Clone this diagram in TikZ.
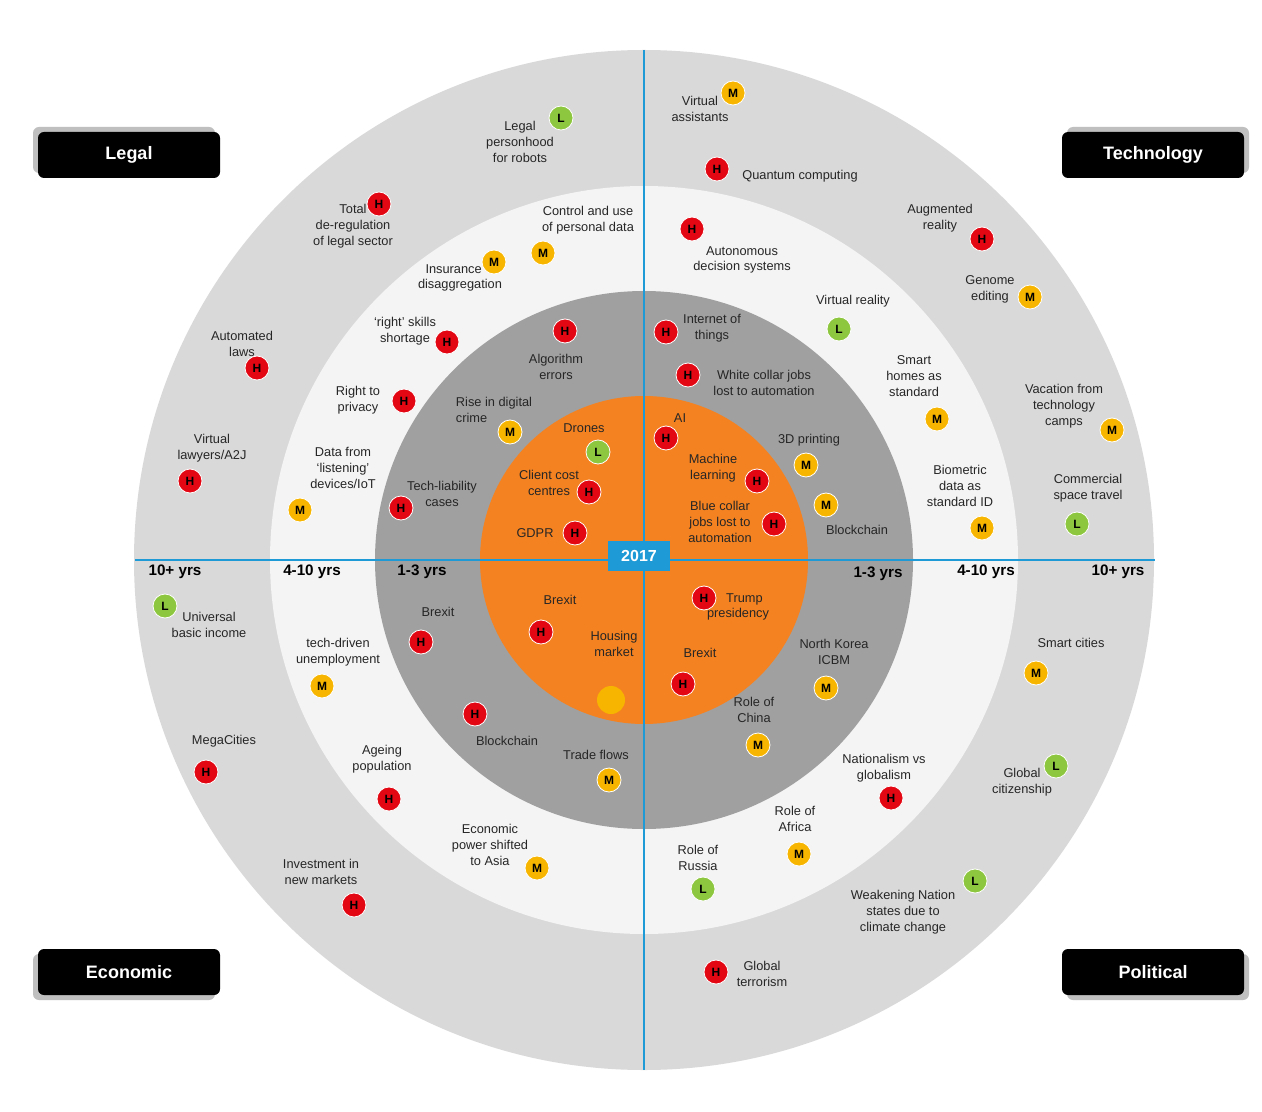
\documentclass[tikz,border=0pt]{standalone}
\usepackage{fontspec}
\setmainfont{Liberation Sans}
\definecolor{ringA}{HTML}{D9D9D9}
\definecolor{ringB}{HTML}{F4F4F4}
\definecolor{ringC}{HTML}{A0A0A0}
\definecolor{orng}{HTML}{F58220}
\definecolor{axis}{HTML}{1E9AD6}
\definecolor{bR}{HTML}{E30613}
\definecolor{bY}{HTML}{F7B500}
\definecolor{bG}{HTML}{8DC63F}
\newcounter{nid}
\newcommand{\Bd}[4]{\stepcounter{nid}\node[badge,fill=#4] (b\arabic{nid}) at (#1,#2) {#3};}
\newcommand{\Tx}[3]{\stepcounter{nid}\node[lbl] (t\arabic{nid}) at (#1,#2) {#3};}
\begin{document}
\begin{tikzpicture}[x=0.5pt,y=-0.5pt,
  badge/.style={circle,draw=white,line width=0.4pt,minimum size=12pt,inner sep=0pt,font=\fontsize{6}{6}\selectfont\bfseries},
  lbl/.style={align=center,inner sep=0pt,font=\fontsize{6.4}{7.9}\selectfont,text=black!85},
  yrs/.style={font=\fontsize{7.6}{8}\selectfont\bfseries,inner sep=0pt},
  cat/.style={fill=black,rounded corners=3pt,minimum width=91pt,minimum height=23pt,text=white,font=\fontsize{9}{9}\selectfont\bfseries},
  catsh/.style={fill=black!25,rounded corners=3pt,minimum width=91pt,minimum height=23pt}]
\useasboundingbox (0,0) rectangle (1262,1112);
\fill[white] (0,0) rectangle (1262,1112);
\coordinate (c) at (644,560);
\fill[ringA] (c) circle[radius=255pt];
\fill[ringB] (c) circle[radius=187pt];
\fill[ringC] (c) circle[radius=134.5pt];
\fill[orng] (c) circle[radius=82pt];
\coordinate (vt) at (644,50); \coordinate (vb) at (644,1070);
\coordinate (hl) at (135,560); \coordinate (hr) at (1155,560);
\draw[axis,line width=1.3pt] (vt) -- (vb);
\draw[axis,line width=1.3pt] (hl) -- (hr);
\node[fill=axis,minimum width=31pt,minimum height=15pt,inner sep=0pt,text=white,font=\fontsize{8}{8}\selectfont\bfseries] (yr) at (639,556) {2017};
% categories
\node[catsh] (s1) at (124,150) {}; \node[cat] (legal) at (129,155) {Legal};
\node[catsh] (s2) at (1158,150) {}; \node[cat] (tech) at (1153,155) {Technology};
\node[catsh] (s3) at (124,977) {}; \node[cat] (econ) at (129,972) {Economic};
\node[catsh] (s4) at (1158,977) {}; \node[cat] (pol) at (1153,972) {Political};
% years
\node[yrs] (y1) at (175,572) {10+ yrs};
\node[yrs] (y2) at (312,572) {4-10 yrs};
\node[yrs] (y3) at (422,572) {1-3 yrs};
\node[yrs] (y4) at (878,574) {1-3 yrs};
\node[yrs] (y5) at (986,572) {4-10 yrs};
\node[yrs] (y6) at (1118,572) {10+ yrs};
% Legal
\Tx{520}{142}{Legal\\personhood\\for robots}\Bd{561}{118}{L}{bG}
\Tx{353}{226}{Total\\de-regulation\\of legal sector}\Bd{379}{204}{H}{bR}
\Tx{588}{220}{Control and use\\of personal data}\Bd{543}{253}{M}{bY}
\Tx{460}{278}{Insurance\phantom{xx}\\disaggregation}\Bd{494}{262}{M}{bY}
\Tx{242}{344}{Automated\\laws}\Bd{257}{368}{H}{bR}
\Tx{405}{331}{`right' skills\\shortage}\Bd{447}{342}{H}{bR}
\Tx{556}{367}{Algorithm\\errors}\Bd{565}{331}{H}{bR}
\Tx{358}{400}{Right to\\privacy}\Bd{404}{401}{H}{bR}
\Tx{494}{410}{Rise in digital\\crime\phantom{xxxxxxx}}\Bd{510}{432}{M}{bY}
\Tx{212}{448}{Virtual\\lawyers/A2J}\Bd{190}{481}{H}{bR}
\Tx{343}{468}{Data from\\`listening'\\devices/IoT}\Bd{300}{510}{M}{bY}
\Tx{442}{494}{Tech-liability\\cases}\Bd{401}{508}{H}{bR}
\Tx{584}{428}{Drones}\Bd{598}{452}{L}{bG}
\Tx{549}{483}{Client cost\\centres}\Bd{589}{492}{H}{bR}
\Tx{535}{533}{GDPR}\Bd{575}{533}{H}{bR}
% Technology
\Tx{700}{109}{Virtual\\assistants}\Bd{733}{93}{M}{bY}
\Tx{800}{176}{Quantum computing}\Bd{717}{169}{H}{bR}
\Tx{940}{218}{Augmented\\reality}\Bd{982}{239}{H}{bR}
\Tx{742}{260}{Autonomous\\decision systems}\Bd{692}{229}{H}{bR}
\Tx{990}{289}{Genome\\editing}\Bd{1030}{297}{M}{bY}
\Tx{853}{301}{Virtual reality}\Bd{839}{329}{L}{bG}
\Tx{712}{328}{Internet of\\things}\Bd{666}{332}{H}{bR}
\Tx{914}{376}{Smart\\homes as\\standard}\Bd{937}{419}{M}{bY}
\Tx{764}{383}{White collar jobs\\lost to automation}\Bd{688}{375}{H}{bR}
\Tx{1064}{406}{Vacation from\\technology\\camps}\Bd{1112}{430}{M}{bY}
\Tx{680}{418}{AI}\Bd{666}{438}{H}{bR}
\Tx{809}{440}{3D printing}\Bd{806}{465}{M}{bY}
\Tx{713}{468}{Machine\\learning}\Bd{757}{481}{H}{bR}
\Tx{960}{486}{Biometric\\data as\\standard ID}\Bd{982}{528}{M}{bY}
\Tx{1088}{488}{Commercial\\space travel}\Bd{1077}{524}{L}{bG}
\Tx{857}{530}{Blockchain}\Bd{826}{505}{M}{bY}
\Tx{720}{522}{Blue collar\\jobs lost to\\automation}\Bd{774}{524}{H}{bR}
% Economic
\Tx{209}{625}{Universal\\basic income}\Bd{165}{606}{L}{bG}
\Tx{438}{612}{Brexit}\Bd{421}{642}{H}{bR}
\Tx{338}{652}{tech-driven\\unemployment}\Bd{322}{686}{M}{bY}
\Tx{560}{600}{Brexit}\Bd{541}{632}{H}{bR}
\Tx{614}{644}{Housing\\market}
\node[circle,fill=bY,minimum size=14pt,inner sep=0pt] (hm) at (611,700) {};
\Tx{224}{741}{MegaCities}\Bd{206}{772}{H}{bR}
\Tx{382}{759}{Ageing\\population}\Bd{389}{799}{H}{bR}
\Tx{507}{741}{Blockchain}\Bd{475}{714}{H}{bR}
\Tx{596}{755}{Trade flows}\Bd{609}{780}{M}{bY}
\Tx{490}{845}{Economic\\power shifted\\to Asia}\Bd{537}{868}{M}{bY}
\Tx{321}{872}{Investment in\\new markets}\Bd{354}{905}{H}{bR}
% Political
\Tx{738}{607}{\quad Trump\\presidency}\Bd{704}{598}{H}{bR}
\Tx{700}{653}{Brexit}\Bd{683}{684}{H}{bR}
\Tx{834}{652}{North Korea\\ICBM}\Bd{826}{688}{M}{bY}
\Tx{1071}{643}{Smart cities}\Bd{1036}{673}{M}{bY}
\Tx{754}{710}{Role of\\China}\Bd{758}{745}{M}{bY}
\Tx{884}{768}{Nationalism vs\\globalism}\Bd{891}{798}{H}{bR}
\Tx{1022}{782}{Global\\citizenship}\Bd{1056}{766}{L}{bG}
\Tx{795}{819}{Role of\\Africa}\Bd{799}{854}{M}{bY}
\Tx{698}{858}{Role of\\Russia}\Bd{703}{889}{L}{bG}
\Tx{903}{912}{Weakening Nation\\states due to\\climate change}\Bd{975}{881}{L}{bG}
\Tx{762}{974}{Global\\terrorism}\Bd{716}{972}{H}{bR}
\end{tikzpicture}
\end{document}
